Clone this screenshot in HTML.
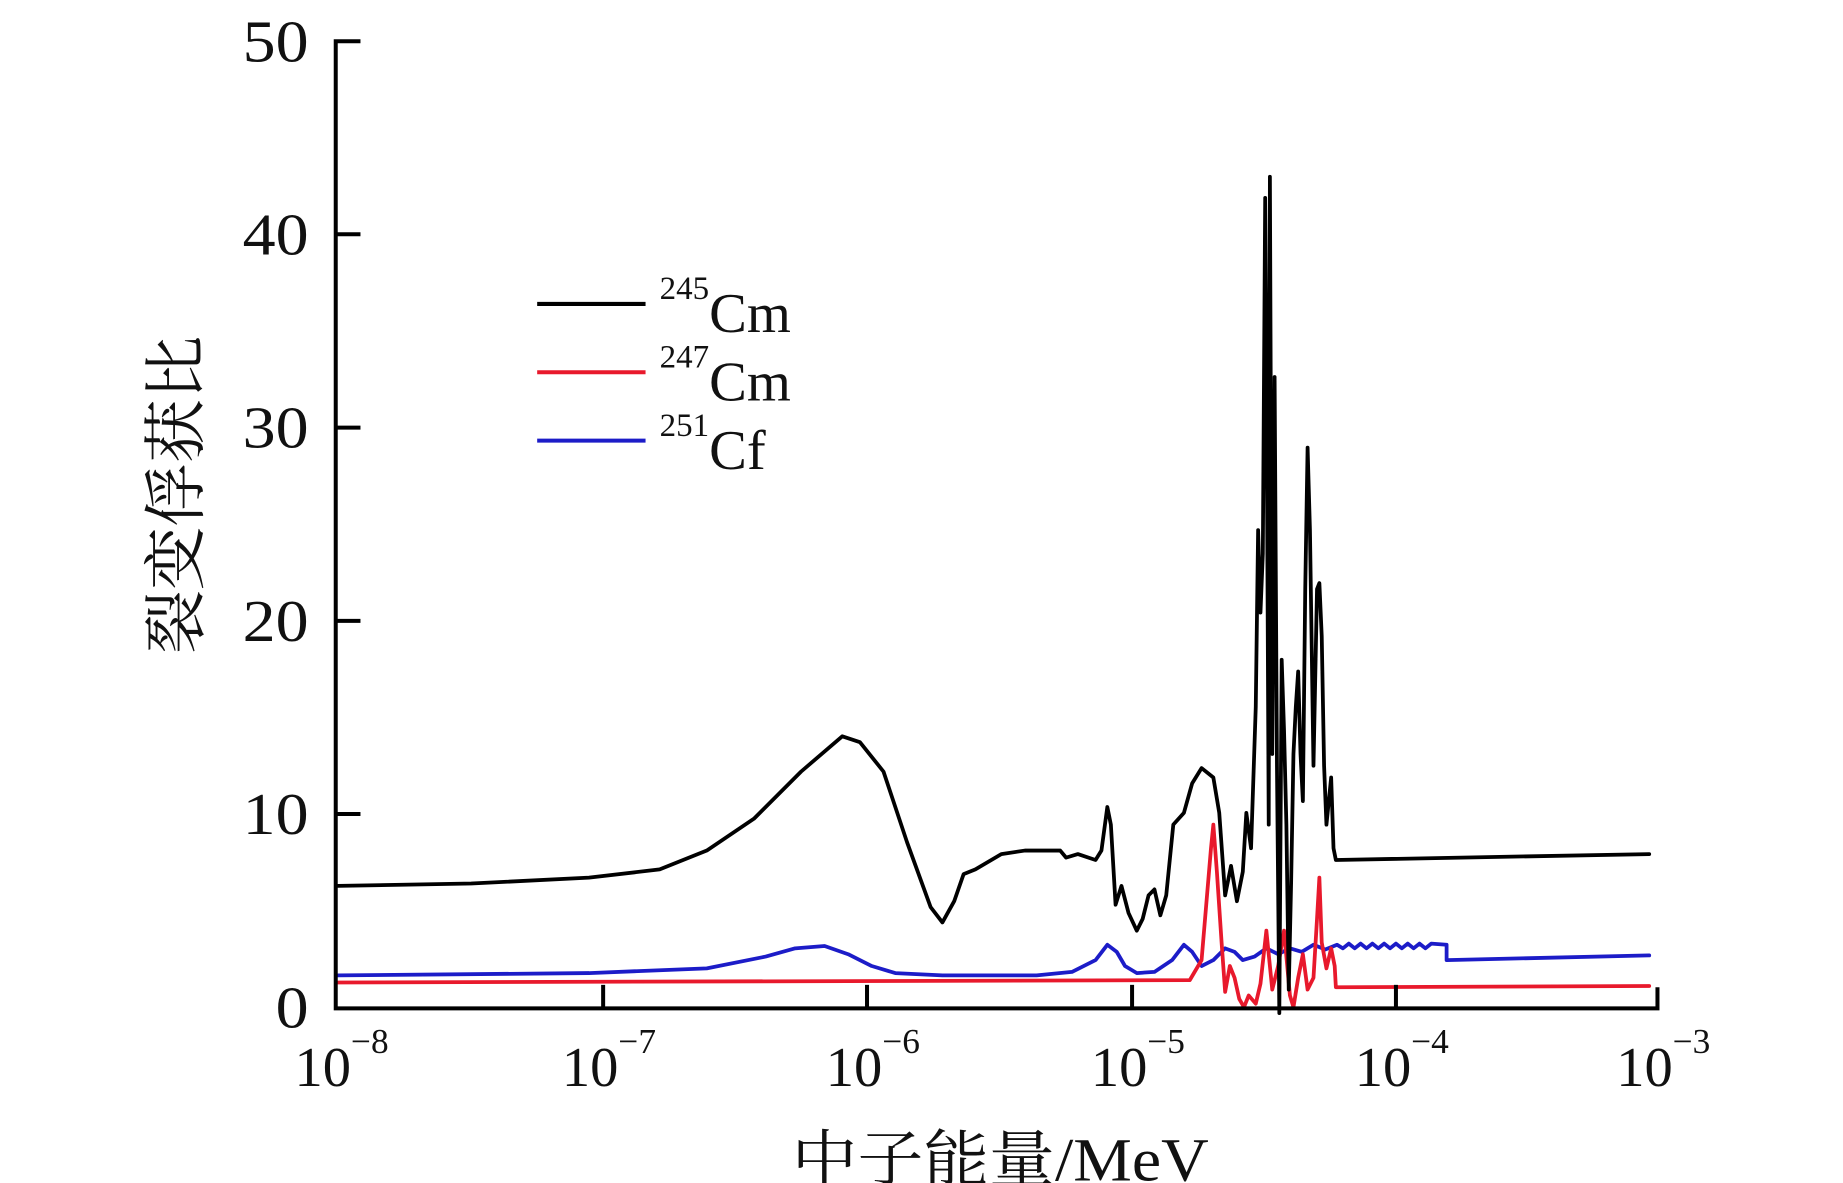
<!DOCTYPE html>
<html><head><meta charset="utf-8"><style>
html,body{margin:0;padding:0;background:#fff;width:1843px;height:1183px;overflow:hidden}
svg{display:block}
text{font-family:"Liberation Serif","Noto Serif CJK SC",serif;fill:#111}
</style></head><body>
<svg width="1843" height="1183" viewBox="0 0 1564.5 1004.2" preserveAspectRatio="none">
<g fill="none" stroke-linejoin="round" stroke-linecap="round" stroke-width="3.2">
<polyline stroke="#1c1cc8" points="287,828 500,826 600,822 650,812 675,805 700,803 720,810 740,820 760,826 800,828 880,828 910,825 930,815 940,802 948,808 955,820 965,826 980,825 995,815 1005,802 1012,808 1020,820 1030,815 1040,805 1048,808 1055,815 1065,812 1075,805 1085,810 1095,805 1105,808 1115,802 1125,806 1135,802 1140,805 1145,801 1150,805 1155,801 1160,805 1165,801 1170,805 1175,801 1180,805 1185,801 1190,805 1195,801 1200,805 1205,801 1210,805 1215,801 1228,802 1228,815 1400,811"/>
<polyline stroke="#e8192c" points="287,834 1010,832 1020,815 1028,720 1030,700 1033,740 1037,800 1040,842 1044,820 1048,830 1052,848 1056,855 1060,845 1066,852 1070,835 1075,790 1080,840 1085,820 1090,790 1095,845 1098,855 1102,830 1106,810 1110,840 1115,830 1118,780 1120,745 1122,800 1126,822 1130,805 1133,820 1134,838 1400,837"/>
<polyline stroke="#000" points="287,752 400,750 500,745 560,738 600,722 640,695 680,655 715,625 730,630 750,655 770,715 790,770 800,783 810,765 818,742 828,738 850,725 870,722 900,722 905,728 915,725 930,730 935,722 940,685 943,700 947,768 952,752 958,775 965,790 970,780 975,760 980,755 985,777 990,760 996,700 1005,690 1012,665 1020,652 1030,660 1035,690 1040,760 1045,735 1050,765 1055,740 1058,690 1062,720 1066,600 1068,450 1070,520 1072,470 1074,168 1075,300 1076,500 1077,700 1078,150 1079,400 1080,640 1082,320 1084,650 1086,860 1088,560 1090,620 1092,700 1094,840 1096,750 1098,640 1100,600 1102,570 1104,640 1106,680 1108,500 1110,380 1112,450 1115,650 1118,500 1120,495 1122,540 1124,650 1126,700 1128,680 1130,660 1132,720 1134,730 1400,725"/>
</g>
<g stroke="#000" stroke-width="3.4" fill="none">
<polyline points="306,35 285,35 285,856 1407,856 1407,838"/>
<line x1="285" y1="198.8" x2="306" y2="198.8"/><line x1="285" y1="363" x2="306" y2="363"/><line x1="285" y1="527" x2="306" y2="527"/><line x1="285" y1="691" x2="306" y2="691"/>
<line x1="512" y1="856" x2="512" y2="836"/><line x1="736" y1="856" x2="736" y2="836"/><line x1="961" y1="856" x2="961" y2="836"/><line x1="1185" y1="856" x2="1185" y2="836"/>
<line x1="456" y1="258" x2="548" y2="258"/>
<line x1="456" y1="316" x2="548" y2="316" stroke="#e8192c"/>
<line x1="456" y1="374" x2="548" y2="374" stroke="#1c1cc8"/>
</g>
<g font-size="50" text-anchor="end">
<text x="262" y="52" textLength="56" lengthAdjust="spacingAndGlyphs">50</text>
<text x="262" y="216" textLength="56" lengthAdjust="spacingAndGlyphs">40</text>
<text x="262" y="380" textLength="56" lengthAdjust="spacingAndGlyphs">30</text>
<text x="262" y="544" textLength="56" lengthAdjust="spacingAndGlyphs">20</text>
<text x="262" y="708" textLength="56" lengthAdjust="spacingAndGlyphs">10</text>
<text x="262" y="872" textLength="28" lengthAdjust="spacingAndGlyphs">0</text>
</g>
<g font-size="48">
<text x="250" y="922">10<tspan font-size="30" dy="-28">−8</tspan></text>
<text x="477" y="922">10<tspan font-size="30" dy="-28">−7</tspan></text>
<text x="701" y="922">10<tspan font-size="30" dy="-28">−6</tspan></text>
<text x="926" y="922">10<tspan font-size="30" dy="-28">−5</tspan></text>
<text x="1150" y="922">10<tspan font-size="30" dy="-28">−4</tspan></text>
<text x="1372" y="922">10<tspan font-size="30" dy="-28">−3</tspan></text>
<text x="560" y="282"><tspan font-size="28" dy="-28">245</tspan><tspan dy="28">Cm</tspan></text>
<text x="560" y="340"><tspan font-size="28" dy="-28">247</tspan><tspan dy="28">Cm</tspan></text>
<text x="560" y="398"><tspan font-size="28" dy="-28">251</tspan><tspan dy="28">Cf</tspan></text>
<text x="672" y="1002" font-size="52" textLength="354" lengthAdjust="spacingAndGlyphs">中子能量/MeV</text>
<text transform="translate(168,420) rotate(-90)" text-anchor="middle" font-size="54">裂变俘获比</text>
</g>
</svg>
</body></html>
